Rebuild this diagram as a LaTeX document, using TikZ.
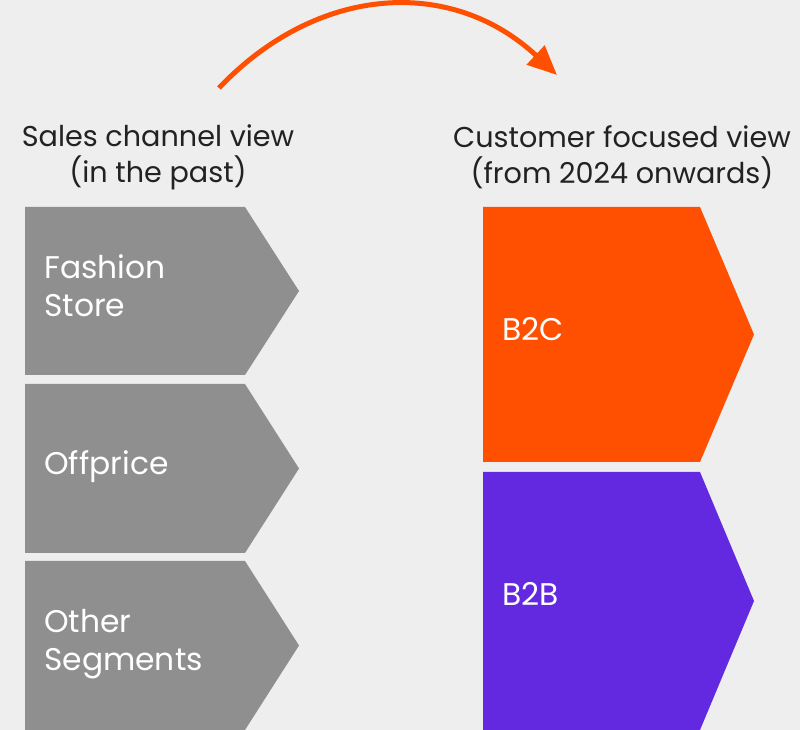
\documentclass[tikz,border=0pt]{standalone}
\usepackage{fontspec}
\setmainfont{Poppins}
\usepackage{tikz}
\usetikzlibrary{arrows.meta,positioning}
\definecolor{bgcol}{HTML}{EEEEEE}
\definecolor{oldgray}{HTML}{8F8F8F}
\definecolor{b2corange}{HTML}{FF4F00}
\definecolor{b2bpurple}{HTML}{6329E0}
\definecolor{headtext}{HTML}{222222}

\begin{document}
\begin{tikzpicture}[
    x=0.75pt, y=-0.75pt,
    head/.style={font=\fontsize{21.5}{27}\selectfont, align=center, text=headtext, inner sep=0pt},
    seg/.style={font=\fontsize{23.5}{28.5}\selectfont, align=left, text=white, anchor=west, inner sep=0pt},
    swoosh/.style={-{Triangle[length=22pt,width=19pt]}, line width=3.75pt, draw=b2corange}
]
\fill[bgcol] (0,0) rectangle (800,730);
\useasboundingbox (0,0) rectangle (800,730);

% sales channel view
\fill[oldgray] (25,207) -- (245,207) -- (299,291) -- (245,375) -- (25,375) -- cycle;
\fill[oldgray] (25,384) -- (245,384) -- (299,468.5) -- (245,553) -- (25,553) -- cycle;
\fill[oldgray] (25,561) -- (245,561) -- (299,645.5) -- (245,730) -- (25,730) -- cycle;
% customer focused view
\fill[b2corange] (483,207) -- (700,207) -- (754,334.5) -- (700,462) -- (483,462) -- cycle;
\fill[b2bpurple] (483,472) -- (700,472) -- (754,601) -- (700,730) -- (483,730) -- cycle;

\node[head] (pasthead) at (158,157) {Sales channel view\\(in the past)};
\node[head] (newhead) at (622,157) {Customer focused view\\(from 2024 onwards)};

\node[seg] (fashion) at (44,286) {Fashion\\Store};
\node[seg] (offprice) at (44,467) {Offprice};
\node[seg] (other) at (44,644) {Other\\Segments};
\node[seg] (btoc) at (502,329) {B2C};
\node[seg] (btob) at (502,594) {B2B};

\coordinate (arcfrom) at (219,88);
\coordinate (arcto) at (557,75);
\coordinate (ctrla) at (318,-16);
\coordinate (ctrlb) at (452,-23);
\draw[swoosh] (arcfrom) .. controls (ctrla) and (ctrlb) .. (arcto);
\end{tikzpicture}
\end{document}
